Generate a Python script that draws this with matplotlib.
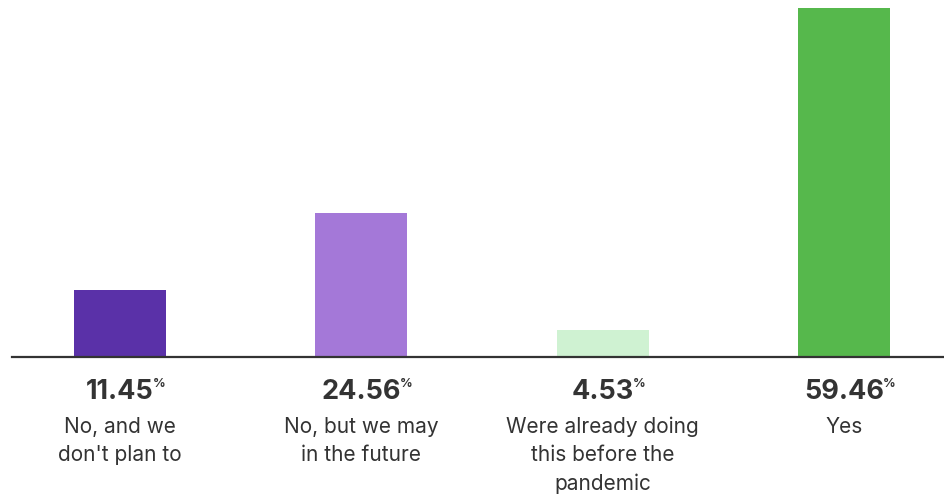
import matplotlib
matplotlib.use('Agg')
from matplotlib import pyplot as plt

# values
categories = ["No, and we\ndon't plan to", "No, but we may\nin the future",
              "Were already doing\nthis before the\npandemic", "Yes"]
values = [11.45, 24.56, 4.53, 59.46]
colors = ['#5A31A8', '#A478D8', '#CFF2D2', '#56B84C']

plt.rcParams['font.family'] = ['Inter', 'DejaVu Sans']
text_color = '#333333'

fig = plt.figure(figsize=(9.44, 4.97), dpi=100)
ax = fig.add_axes([12 / 944, 140 / 497, 932 / 944, 349 / 497])

x = list(range(len(values)))
ax.bar(x, values, width=0.381, color=colors)

ax.set_xlim(-0.447, 3.414)
ax.set_ylim(0, max(values))
for side in ['top', 'right', 'left']:
    ax.spines[side].set_visible(False)
ax.spines['bottom'].set_color('#333333')
ax.spines['bottom'].set_linewidth(1.6)
ax.set_xticks([])
ax.set_yticks([])

fig.canvas.draw()
renderer = fig.canvas.get_renderer()

for xi, v, cat in zip(x, values, categories):
    # bold value, with a small raised percent sign after it
    num = ax.annotate(f'{v:.2f}', xy=(xi, 0), xycoords=('data', 'axes fraction'),
                      xytext=(0, -30.5), textcoords='offset points',
                      ha='center', va='baseline', fontsize=19.5, fontweight='bold',
                      color=text_color)
    bb = num.get_window_extent(renderer)
    ax.annotate('%', xy=(bb.x1, bb.y1), xycoords='figure pixels',
                xytext=(-0.5, 1.0), textcoords='offset points',
                ha='left', va='top', fontsize=9, fontweight='bold',
                color=text_color)
    ax.annotate(cat, xy=(xi, 0), xycoords=('data', 'axes fraction'),
                xytext=(0, -43), textcoords='offset points',
                ha='center', va='top', fontsize=15, color=text_color,
                linespacing=1.5)

fig.savefig('out.png', dpi=100)
